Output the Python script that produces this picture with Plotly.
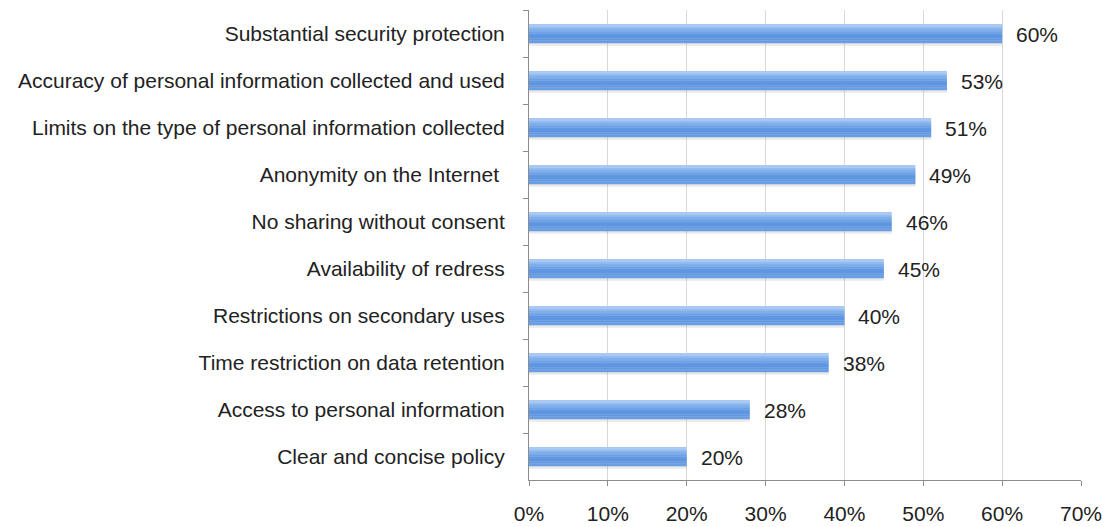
import plotly.graph_objects as go

categories = [
    "Substantial security protection",
    "Accuracy of personal information collected and used",
    "Limits on the type of personal information collected",
    "Anonymity on the Internet ",
    "No sharing without consent",
    "Availability of redress",
    "Restrictions on secondary uses",
    "Time restriction on data retention",
    "Access to personal information",
    "Clear and concise policy",
]
values = [60, 53, 51, 49, 46, 45, 40, 38, 28, 20]

x_ticks = [0, 10, 20, 30, 40, 50, 60, 70]
x_tick_labels = ["0%", "10%", "20%", "30%", "40%", "50%", "60%", "70%"]

FONT = "Liberation Sans, Arial, Helvetica, sans-serif"
FSIZE = 21
BAR_WIDTH = 0.4

# vertical shading of each bar, top to bottom
shade = ["#a9c9f3", "#93bcf0", "#7eaeec", "#6ca1e7", "#6098e3", "#5d95e1",
         "#6298e2", "#699de4"]

fig = go.Figure()

# soft shadow under the bars
fig.add_trace(go.Bar(
    x=values, y=categories, orientation="h",
    width=BAR_WIDTH, offset=-BAR_WIDTH / 2 + 0.06,
    marker=dict(color="rgba(120,120,120,0.16)", line=dict(width=0)),
    hoverinfo="skip", showlegend=False,
))

strip = BAR_WIDTH / len(shade)
for i, c in enumerate(shade):
    fig.add_trace(go.Bar(
        x=values, y=categories, orientation="h",
        width=strip + 0.006, offset=-BAR_WIDTH / 2 + i * strip,
        marker=dict(color=c, line=dict(width=0)),
        hoverinfo="skip", showlegend=False,
    ))

for cat, v in zip(categories, values):
    fig.add_annotation(
        x=v, y=cat, text=f"{v}%", showarrow=False,
        xanchor="left", yanchor="middle", xshift=12, yshift=-1,
        font=dict(family=FONT, size=FSIZE, color="#222222"),
    )

fig.update_layout(
    width=1107, height=527,
    margin=dict(l=529, r=26, t=10, b=47),
    barmode="overlay",
    plot_bgcolor="white", paper_bgcolor="white",
    font=dict(family=FONT, size=FSIZE, color="#222222"),
    xaxis=dict(
        range=[0, 70], tickvals=x_ticks, ticktext=x_tick_labels,
        showgrid=True, gridcolor="#d9d9d9", gridwidth=1,
        showline=True, linecolor="#8c8c8c", linewidth=1,
        ticks="outside", ticklen=5, tickcolor="#8c8c8c",
        ticklabelstandoff=10, zeroline=False, automargin=False,
        tickfont=dict(family=FONT, size=FSIZE, color="#222222"),
    ),
    yaxis=dict(
        autorange="reversed", type="category",
        showline=True, linecolor="#8c8c8c", linewidth=1,
        ticks="outside", ticklen=5, tickcolor="#8c8c8c",
        tickson="boundaries", ticklabelstandoff=19, automargin=False,
        showgrid=False,
        tickfont=dict(family=FONT, size=FSIZE, color="#222222"),
    ),
)

fig.write_html("out.html")
